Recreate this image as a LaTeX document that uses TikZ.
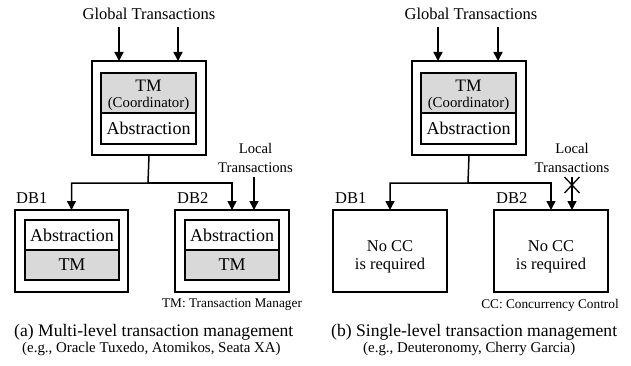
\documentclass[tikz,border=0pt]{standalone}
\usepackage{fontspec}
\setmainfont{Liberation Serif}
\usetikzlibrary{arrows.meta,calc}
\definecolor{tmgray}{HTML}{D9D9D9}
\newcommand{\fsz}[1]{\fontsize{#1}{#1}\selectfont}
\begin{document}
\begin{tikzpicture}[x=1pt,y=-1pt,
  box/.style={draw, line width=1.8pt, inner sep=0pt, outer sep=0pt, anchor=north west, align=center},
  grayfill/.style={fill=tmgray},
  arr/.style={line width=1.5pt, -{Triangle[width=9pt,length=9pt]}},
  txt/.style={inner sep=0pt, align=center},
  big/.style={font=\fsz{18}},
  mid/.style={font=\fsz{16.5}},
  small/.style={font=\fsz{13.3}},
  captext/.style={inner sep=0pt, anchor=west, font=\fsz{17.6}},
  capsub/.style={inner sep=0pt, anchor=west, font=\fsz{14.9}},
]
\useasboundingbox (0,0) rectangle (631,366);

% ---------------- (a) ----------------
\node[txt, mid] (gta) at (149,14) {Global Transactions};
\node[box, minimum width=114pt, minimum height=94pt] (oa) at (92,61) {};
\node[box, grayfill, minimum width=95pt, minimum height=40pt] (tma) at (101,73) {};
\node[txt, font=\fsz{17.5}] (tma1) at (148.5,85.5) {TM};
\node[txt, font=\fsz{14.8}] (tma2) at (148.5,104) {(Coordinator)};
\node[box, big, minimum width=95pt, minimum height=31pt] (aba) at (101,113) {Abstraction};
\coordinate (ga1) at (119,27);
\coordinate (ga2) at (178,27);
\draw[arr] (ga1) -- (ga1 |- oa.north);
\draw[arr] (ga2) -- (ga2 |- oa.north);

\node[box, minimum width=113pt, minimum height=82pt] (dba1) at (15,210) {};
\node[box, big, minimum width=94pt, minimum height=30pt] (dba1ab) at (25,220) {Abstraction};
\node[box, big, grayfill, minimum width=94pt, minimum height=30pt] (dba1tm) at (25,250) {TM};
\node[box, minimum width=114pt, minimum height=82pt] (dba2) at (175,210) {};
\node[box, big, minimum width=94pt, minimum height=30pt] (dba2ab) at (185,220) {Abstraction};
\node[box, big, grayfill, minimum width=94pt, minimum height=30pt] (dba2tm) at (185,250) {TM};
\node[txt, mid, anchor=west] (la1) at (16,198) {DB1};
\node[txt, mid, anchor=west] (la2) at (177,198) {DB2};

\coordinate (ja) at (148,183);
\draw[arr] (oa.south) -- (ja) -| (dba1.north);
\draw[arr] (ja) -| (dba2.north);

\node[txt, font=\fsz{14.7}] (lta) at (255.5,158) {Local\\[5pt]Transactions};
\coordinate (lsa) at (254,177);
\draw[arr] (lsa) -- (lsa |- dba2.north);

\node[txt, small] (notea) at (232,305) {TM: Transaction Manager};
\node[captext] (capa) at (14,332) {(a) Multi-level transaction management};
\node[capsub] (capa2) at (22,349) {(e.g., Oracle Tuxedo, Atomikos, Seata XA)};

% ---------------- (b) ----------------
\node[txt, mid] (gtb) at (471,14) {Global Transactions};
\node[box, minimum width=114pt, minimum height=94pt] (ob) at (412,61) {};
\node[box, grayfill, minimum width=95pt, minimum height=40pt] (tmb) at (421,73) {};
\node[txt, font=\fsz{17.5}] (tmb1) at (468.5,85.5) {TM};
\node[txt, font=\fsz{14.8}] (tmb2) at (468.5,104) {(Coordinator)};
\node[box, big, minimum width=95pt, minimum height=31pt] (abb) at (421,113) {Abstraction};
\coordinate (gb1) at (438,27);
\coordinate (gb2) at (498,27);
\draw[arr] (gb1) -- (gb1 |- ob.north);
\draw[arr] (gb2) -- (gb2 |- ob.north);

\node[box, minimum width=114pt, minimum height=82pt] (dbb1) at (333,210) {};
\node[box, minimum width=114pt, minimum height=82pt] (dbb2) at (494,210) {};
\node[txt, mid] (ncc1) at (390,246) {No CC};
\node[txt, mid] (req1) at (390,266) {is required};
\node[txt, mid] (ncc2) at (551,246) {No CC};
\node[txt, mid] (req2) at (551,266) {is required};
\node[txt, mid, anchor=west] (lb1) at (335,198) {DB1};
\node[txt, mid, anchor=west] (lb2) at (496,198) {DB2};

\coordinate (jb) at (468,183);
\draw[arr] (ob.south) -- (jb) -| (dbb1.north);
\draw[arr] (jb) -| (dbb2.north);

\node[txt, font=\fsz{14.7}] (ltb) at (572,158) {Local\\[5pt]Transactions};
\coordinate (lsb) at (572,177);
\draw[arr] (lsb) -- (lsb |- dbb2.north);
\coordinate (star) at (572,185);
\draw[line width=1.3pt] ($(star)+(-7.5,-8)$) -- ($(star)+(7.5,8)$);
\draw[line width=1.3pt] ($(star)+(7.5,-8)$) -- ($(star)+(-7.5,8)$);

\node[txt, small] (noteb) at (550,305) {CC: Concurrency Control};
\node[captext] (capb) at (331,332) {(b) Single-level transaction management};
\node[capsub] (capb2) at (363,349) {(e.g., Deuteronomy, Cherry Garcia)};
\end{tikzpicture}
\end{document}
